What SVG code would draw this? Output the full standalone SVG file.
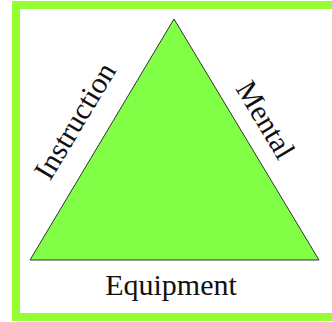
<svg xmlns="http://www.w3.org/2000/svg" width="332" height="322" viewBox="0 0 332 322">
<style>
.lbl{font-family:"Liberation Serif","Times New Roman",serif;font-size:30px;fill:#111;text-anchor:middle}
</style>
<rect x="0" y="0" width="332" height="322" fill="#ffffff"/>
<rect id="frame" x="16" y="5" width="330" height="312" fill="#ffffff" stroke="#96ff33" stroke-width="8"/>
<g id="triangle">
<polygon points="174,19 30,260 319,260" fill="#80ff46" stroke="#333333" stroke-width="1"/>
</g>
<g id="connectors"></g>
<g id="instruction"><text class="lbl" transform="translate(83.5,126) rotate(-59)">Instruction</text></g>
<g id="mental"><text class="lbl" transform="translate(257,125) rotate(59)">Mental</text></g>
<g id="equipment"><text class="lbl" x="171" y="295">Equipment</text></g>
</svg>
